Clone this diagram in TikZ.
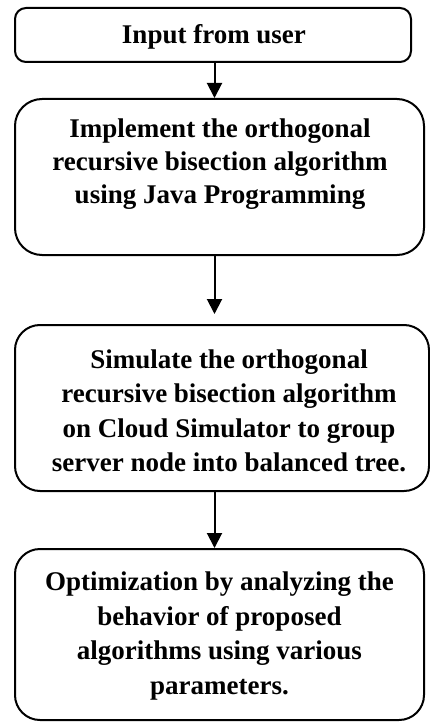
\documentclass[tikz,border=0pt]{standalone}
\usepackage{fontspec}
\setmainfont{Liberation Serif}
\usetikzlibrary{arrows.meta}
\begin{document}
\begin{tikzpicture}[x=1pt,y=1pt,
  boxshape/.style={draw=black, line width=2pt},
  lbl/.style={align=center, inner sep=0pt, font=\bfseries\fontsize{27}{34.5}\selectfont},
  conn/.style={line width=2pt, -{Triangle[width=15pt,length=15pt]}}]
\useasboundingbox (0,0) rectangle (430,-722);
\node[boxshape, rounded corners=11pt, minimum width=396pt, minimum height=54pt, inner sep=0pt] (b1) at (213,-35) {};
\node[boxshape, rounded corners=27pt, minimum width=409pt, minimum height=156pt, inner sep=0pt] (b2) at (219.5,-177) {};
\node[boxshape, rounded corners=25pt, minimum width=414pt, minimum height=166pt, inner sep=0pt] (b3) at (222,-408) {};
\node[boxshape, rounded corners=25pt, minimum width=409pt, minimum height=171pt, inner sep=0pt] (b4) at (219.5,-634.5) {};
\node[lbl] (t1) at (214,-37) {Input from user};
\node[lbl, font=\bfseries\fontsize{27}{33}\selectfont] (t2) at (220,-164) {Implement the orthogonal\\recursive bisection algorithm\\using Java Programming};
\node[lbl] (t3) at (229,-411) {Simulate the orthogonal\\recursive bisection algorithm\\on Cloud Simulator to group\\server node into balanced tree.};
\node[lbl] (t4) at (219.5,-636) {Optimization by analyzing the\\behavior of proposed\\algorithms using various\\parameters.};
\draw[conn] (b1.south -| 214.5,0) -- (b2.north -| 214.5,0);
\draw[conn] (b2.south -| 214.5,0) -- ([yshift=10pt]b3.north -| 214.5,0);
\draw[conn] (b3.south -| 214.5,0) -- (b4.north -| 214.5,0);
\end{tikzpicture}
\end{document}
